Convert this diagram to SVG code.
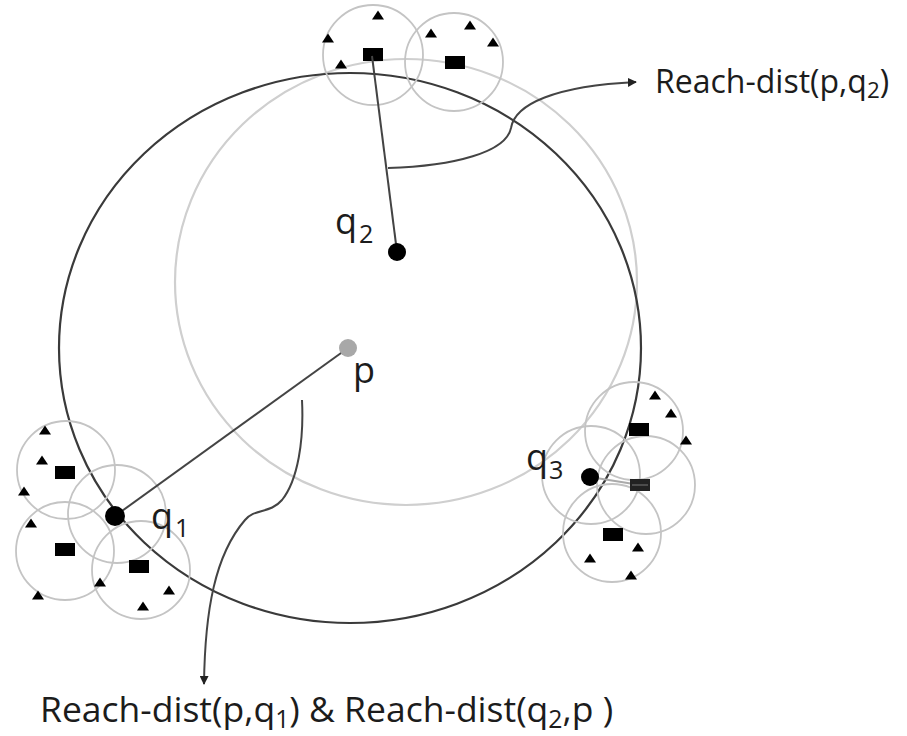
<svg xmlns="http://www.w3.org/2000/svg" width="907" height="736" viewBox="0 0 907 736">
  <style>
    .outer { fill: none; stroke: #3a3a3a; stroke-width: 2.2; }
    .inner { fill: none; stroke: #cfcfcf; stroke-width: 2.2; }
    .hood { fill: none; stroke: #c4c4c4; stroke-width: 1.8; }
    .link { fill: none; stroke: #444; stroke-width: 2; }
    .brace { fill: none; stroke: #444; stroke-width: 2; }
    .lbl { font-family: "Open Sans", Lato, sans-serif; fill: #1c1c1c; }
    .sub { font-size: 0.7em; }
  </style>
  <defs>
    <path id="tri" d="M-6,4.5 L6,4.5 L0,-4.5 Z" fill="#000"/>
    <rect id="obj" x="-10" y="-7" width="20" height="13" fill="#000"/>
    <marker id="arrow" viewBox="0 0 10 10" refX="9" refY="5" markerWidth="9" markerHeight="9" orient="auto" markerUnits="userSpaceOnUse">
      <path d="M0,0 L10,5 L0,10 Z" fill="#222"/>
    </marker>
  </defs>

  <rect width="907" height="736" fill="#fff"/>

  <!-- reachability regions -->
  <g id="region-q2">
    <ellipse class="inner" cx="406" cy="282" rx="231" ry="223"/>
  </g>
  <g id="region-p">
    <ellipse class="outer" cx="350" cy="348" rx="291" ry="275"/>
  </g>

  <!-- neighbourhood of the top object -->
  <g id="cluster-top">
    <circle class="hood" cx="373" cy="55" r="50"/>
    <circle class="hood" cx="454" cy="62" r="49"/>
    <use href="#tri" x="378" y="15"/>
    <use href="#tri" x="328" y="38"/>
    <use href="#tri" x="341" y="64"/>
    <use href="#tri" x="431" y="33"/>
    <use href="#tri" x="470" y="25"/>
    <use href="#tri" x="493" y="42"/>
    <use href="#obj" x="373" y="55"/>
    <use href="#obj" x="455" y="63"/>
  </g>

  <!-- neighbourhood of q1 -->
  <g id="cluster-q1">
    <circle class="hood" cx="66" cy="470" r="49"/>
    <circle class="hood" cx="117" cy="514" r="49"/>
    <circle class="hood" cx="65" cy="551" r="49"/>
    <circle class="hood" cx="141" cy="570" r="49"/>
    <use href="#tri" x="45" y="430"/>
    <use href="#tri" x="42" y="460"/>
    <use href="#tri" x="24" y="491"/>
    <use href="#tri" x="31" y="523"/>
    <use href="#tri" x="100" y="582"/>
    <use href="#tri" x="38" y="595"/>
    <use href="#tri" x="169" y="590"/>
    <use href="#tri" x="143" y="606"/>
    <use href="#obj" x="65" y="473"/>
    <use href="#obj" x="65" y="550"/>
    <use href="#obj" x="139" y="567"/>
  </g>

  <!-- neighbourhood of q3 -->
  <g id="cluster-q3">
    <circle class="hood" cx="634" cy="431" r="49"/>
    <circle class="hood" cx="591" cy="475" r="49"/>
    <circle class="hood" cx="646" cy="485" r="49"/>
    <circle class="hood" cx="612" cy="533" r="49"/>
    <use href="#tri" x="655" y="395"/>
    <use href="#tri" x="671" y="413"/>
    <use href="#tri" x="686" y="440"/>
    <use href="#tri" x="638" y="547"/>
    <use href="#tri" x="590" y="558"/>
    <use href="#tri" x="631" y="575"/>
    <use href="#obj" x="639" y="430"/>
    <use href="#obj" x="613" y="535"/>
  </g>

  <!-- connectors -->
  <g id="connectors">
    <line class="link" x1="348" y1="348" x2="115" y2="516"/>
    <line class="link" x1="397" y1="252" x2="372" y2="56"/>
    <line x1="590" y1="477" x2="640" y2="485" stroke="#aaa" stroke-width="2"/>
    <path class="brace" d="M388,168 C455,166 506,152 511,128 C515,104 555,86 636,82" marker-end="url(#arrow)"/>
    <path class="brace" d="M302,400 C304,440 298,480 282,500 C270,514 255,508 245,520 C215,555 205,610 204,684" marker-end="url(#arrow)"/>
  </g>

  <!-- striped object near q3 -->
  <g id="obj-q3">
    <rect x="630" y="479" width="20" height="12" fill="#222"/>
    <line x1="632" y1="485" x2="648" y2="485" stroke="#777" stroke-width="1"/>
  </g>

  <!-- points -->
  <g id="p">
    <circle cx="348" cy="348" r="9" fill="#a8a8a8"/>
    <text class="lbl" x="353" y="383" font-size="36">p</text>
  </g>
  <g id="q2">
    <circle cx="397" cy="252" r="9" fill="#000"/>
    <text class="lbl" x="335" y="234" font-size="36">q<tspan class="sub" dx="2" dy="9">2</tspan></text>
  </g>
  <g id="q1">
    <circle cx="115" cy="516" r="10" fill="#000"/>
    <text class="lbl" x="151" y="529" font-size="36">q<tspan class="sub" dx="2" dy="8">1</tspan></text>
  </g>
  <g id="q3">
    <circle cx="590" cy="477" r="9" fill="#000"/>
    <text class="lbl" x="526" y="470" font-size="36">q<tspan class="sub" dx="1" dy="9">3</tspan></text>
  </g>

  <!-- captions -->
  <g id="caption-top">
    <text class="lbl" x="655" y="93" font-size="32">Reach-dist(p,q<tspan class="sub" dy="5">2</tspan><tspan dy="-5">)</tspan></text>
  </g>
  <g id="caption-bottom">
    <text class="lbl" x="40" y="722" font-size="35.5">Reach-dist(p,q<tspan class="sub" dy="6">1</tspan><tspan dy="-6">) &amp; Reach-dist(q</tspan><tspan class="sub" dy="6">2</tspan><tspan dy="-6">,p )</tspan></text>
  </g>
</svg>
